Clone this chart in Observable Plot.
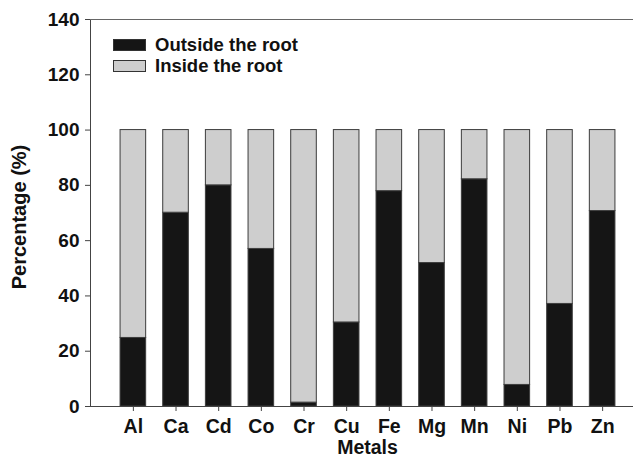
<!DOCTYPE html>
<html>
<head>
<meta charset="utf-8">
<script src="https://cdn.jsdelivr.net/npm/d3@7"></script>
<script src="https://cdn.jsdelivr.net/npm/@observablehq/plot@0.6"></script>
<style>
  html, body { margin: 0; padding: 0; background: #fff; }
  #wrap { position: relative; width: 633px; height: 463px; font-family: "Liberation Sans", Arial, sans-serif; }
  #legend { position: absolute; left: 113px; top: 35px; font-weight: bold; font-size: 18.5px; color: #111; }
  .item { display: flex; align-items: center; height: 20.5px; }
  .sw { width: 33px; height: 12px; border: 1px solid #333; margin-right: 9px; box-sizing: border-box; }
</style>
</head>
<body>
<div id="wrap"></div>
<script>
const metals = ["Al", "Ca", "Cd", "Co", "Cr", "Cu", "Fe", "Mg", "Mn", "Ni", "Pb", "Zn"];
const outside = [24.8, 70.1, 80.0, 57.0, 1.4, 30.4, 77.9, 51.9, 82.2, 7.8, 37.1, 70.7];
const total = 100;
const seriesNames = ["Outside the root", "Inside the root"];
const seriesColors = ["#151515", "#cecece"];
const yTicks = [0, 20, 40, 60, 80, 100, 120, 140];

const rows = [];
metals.forEach((m, i) => {
  rows.push({metal: m, series: seriesNames[0], y1: 0, y2: outside[i]});
  rows.push({metal: m, series: seriesNames[1], y1: outside[i], y2: total});
});

const chart = Plot.plot({
  width: 633,
  height: 463,
  marginLeft: 90,
  marginRight: 1,
  marginTop: 19,
  marginBottom: 57,
  insetLeft: 13,
  style: {fontFamily: "'Liberation Sans', Arial, sans-serif", fontWeight: "bold", fontSize: "19px", color: "#111", background: "#fff"},
  x: {domain: metals, padding: 0.4, round: false, label: null},
  y: {domain: [0, 140], label: null},
  color: {domain: seriesNames, range: seriesColors},
  marks: [
    Plot.barY(rows, {x: "metal", y1: "y1", y2: "y2", fill: "series", stroke: "#3c3c3c", strokeWidth: 1}),
    Plot.frame({anchor: "left", stroke: "#444"}),
    Plot.frame({anchor: "bottom", stroke: "#444"}),
    Plot.frame({anchor: "top", stroke: "#666"}),
    Plot.axisY({ticks: yTicks, tickSize: 5, tickPadding: 6, label: null, fontSize: 19, stroke: "#444"}),
    Plot.axisX({tickSize: 5, tickPadding: 8, label: null, fontSize: 19.5, stroke: "#444"}),
    Plot.text(["Metals"], {frameAnchor: "bottom", lineAnchor: "middle", dy: 41, dx: 6, fontSize: 19.5, fontWeight: "bold", fill: "#111"}),
    Plot.text(["Percentage (%)"], {frameAnchor: "left", textAnchor: "middle", lineAnchor: "middle", rotate: -90, dx: -71, dy: 4, fontSize: 20, fontWeight: "bold", fill: "#111", letterSpacing: "0.8px"})
  ]
});
const wrap = document.getElementById("wrap");
wrap.appendChild(chart);

const legend = document.createElement("div");
legend.id = "legend";
seriesNames.forEach((name, i) => {
  const item = document.createElement("div");
  item.className = "item";
  const sw = document.createElement("div");
  sw.className = "sw";
  sw.style.background = seriesColors[i];
  const t = document.createElement("span");
  t.textContent = name;
  item.appendChild(sw);
  item.appendChild(t);
  legend.appendChild(item);
});
wrap.appendChild(legend);
</script>
</body>
</html>
